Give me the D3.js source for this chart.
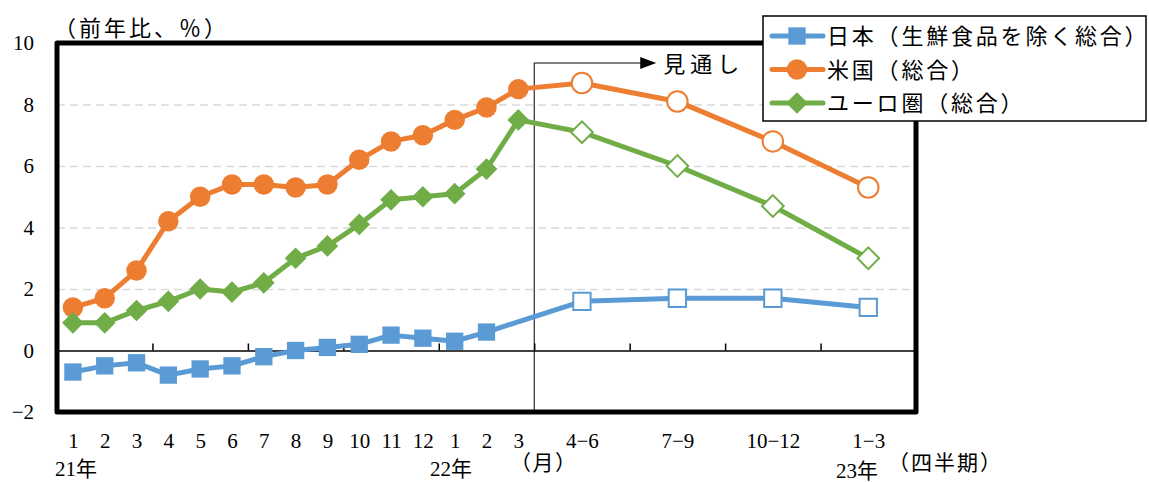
<!DOCTYPE html>
<html>
<head>
<meta charset="utf-8">
<script src="https://cdn.jsdelivr.net/npm/d3@7"></script>
<style>
  html, body { margin: 0; padding: 0; background: #fff; }
  svg { display: block; }
  text { font-family: 'Liberation Serif', 'Noto Sans CJK JP', serif; fill: #000; }
</style>
</head>
<body>
<svg id="chart" width="1149" height="482"></svg>
<script>
// Monthly CPI (y/y, %) Jan 2021 – Mar 2022, then quarterly outlook Apr–Jun 2022 … Jan–Mar 2023
const monthLabels = ["1","2","3","4","5","6","7","8","9","10","11","12","1","2","3"];
const quarterLabels = ["4\u22126","7\u22129","10\u221212","1\u22123"];
const yTicks = [-2, 0, 2, 4, 6, 8, 10];

const seriesNames = ["日本（生鮮食品を除く総合）", "米国（総合）", "ユーロ圏（総合）"];
const seriesColors = ["#5B9BD5", "#ED7D31", "#70AD47"];

// actual monthly values
const japanActual = [-0.7, -0.5, -0.4, -0.8, -0.6, -0.5, -0.2, 0.0, 0.1, 0.2, 0.5, 0.4, 0.3, 0.6];
const usActual    = [1.4, 1.7, 2.6, 4.2, 5.0, 5.4, 5.4, 5.3, 5.4, 6.2, 6.8, 7.0, 7.5, 7.9, 8.5];
const euroActual  = [0.9, 0.9, 1.3, 1.6, 2.0, 1.9, 2.2, 3.0, 3.4, 4.1, 4.9, 5.0, 5.1, 5.9, 7.5];

// quarterly outlook
const japanOutlook = [1.6, 1.7, 1.7, 1.4];
const usOutlook    = [8.7, 8.1, 6.8, 5.3];
const euroOutlook  = [7.1, 6.0, 4.7, 3.0];

const svg = d3.select("#chart");

// period index: months 0..14, each quarter centred on its middle month
const nMonths = monthLabels.length;
const quarterPos = quarterLabels.map((_, q) => nMonths + 3 * q + 1);
const nPeriods = nMonths + 3 * quarterLabels.length;

const plot = { left: 57, right: 916, top: 43, bottom: 412 };
const x = d3.scaleLinear().domain([-0.5, nPeriods - 0.5]).range([plot.left, plot.right]);
const y = d3.scaleLinear().domain([-2, 10]).range([plot.bottom, plot.top]);

function buildSeries(actual, outlook) {
  const pts = actual.map((v, i) => ({ i, v, outlook: false }));
  outlook.forEach((v, q) => pts.push({ i: quarterPos[q], v, outlook: true }));
  return pts;
}
const series = [
  buildSeries(japanActual, japanOutlook),
  buildSeries(usActual, usOutlook),
  buildSeries(euroActual, euroOutlook)
];

// dashed gridlines
svg.append("g")
  .attr("transform", `translate(${plot.left},0)`)
  .call(d3.axisLeft(y).tickValues(yTicks.filter(t => t > 0 && t < 10)).tickSize(-(plot.right - plot.left)).tickFormat(""))
  .call(g => g.select(".domain").remove())
  .call(g => g.selectAll(".tick line").attr("stroke", "#D9D9D9").attr("stroke-width", 1.5).attr("stroke-dasharray", "8,5"));

// y tick labels
svg.append("g")
  .attr("transform", `translate(${plot.left - 20},0)`)
  .call(d3.axisLeft(y).tickValues(yTicks).tickSize(0).tickFormat(d => d < 0 ? "\u2212" + Math.abs(d) : d))
  .call(g => g.select(".domain").remove())
  .call(g => g.selectAll("text").attr("font-size", 21).attr("font-family", "'Liberation Serif', serif").attr("fill", "#000"));

// outlook divider and arrow
const divX = x(nMonths - 0.5);
const annY = 63;
svg.append("line").attr("x1", divX).attr("x2", divX).attr("y1", annY).attr("y2", plot.bottom)
  .attr("stroke", "#000").attr("stroke-width", 1);
svg.append("line").attr("x1", divX).attr("x2", divX + 108).attr("y1", annY).attr("y2", annY)
  .attr("stroke", "#000").attr("stroke-width", 1);
svg.append("path")
  .attr("d", `M${divX + 106},${annY - 6}L${divX + 122},${annY}L${divX + 106},${annY + 6}Z`)
  .attr("fill", "#000");
svg.append("text").attr("x", divX + 129).attr("y", annY + 9).attr("font-size", 22)
  .attr("letter-spacing", 5).text("見通し");

// zero line with quarter-boundary ticks
const boundaryTicks = d3.range(2.5, nPeriods - 1, 3);
svg.append("g")
  .attr("transform", `translate(0,${y(0)})`)
  .call(d3.axisBottom(x).tickValues(boundaryTicks).tickSize(-7).tickSizeOuter(0).tickFormat(""))
  .call(g => g.select(".domain").attr("stroke", "#000").attr("stroke-width", 1.5))
  .call(g => g.selectAll(".tick line").attr("stroke", "#000").attr("stroke-width", 1.5));

// month and quarter labels
const periodLabels = monthLabels.map((t, i) => ({ i, t }))
  .concat(quarterLabels.map((t, q) => ({ i: quarterPos[q], t })));
svg.append("g")
  .attr("transform", `translate(0,${plot.bottom + 18})`)
  .call(d3.axisBottom(x).tickValues(periodLabels.map(d => d.i)).tickSize(0)
    .tickFormat(d => periodLabels.find(p => p.i === d).t))
  .call(g => g.select(".domain").remove())
  .call(g => g.selectAll("text").attr("font-size", 21).attr("font-family", "'Liberation Serif', serif").attr("fill", "#000"));

// year and unit labels
svg.append("text").attr("x", 55).attr("y", 476).attr("font-size", 21).text("21年");
svg.append("text").attr("x", 430).attr("y", 476).attr("font-size", 21).text("22年");
svg.append("text").attr("x", 510).attr("y", 470).attr("font-size", 21).attr("letter-spacing", 1.5).text("（月）");
svg.append("text").attr("x", 836).attr("y", 478).attr("font-size", 21).text("23年");
svg.append("text").attr("x", 888).attr("y", 470).attr("font-size", 21).attr("letter-spacing", 2).text("（四半期）");

// unit label
svg.append("text").attr("x", 54).attr("y", 36).attr("font-size", 22).attr("letter-spacing", 3).text("（前年比、％）");

// marker shapes (diamond = square turned 45°)
const symbols = [d3.symbolSquare, d3.symbolCircle, d3.symbolSquare];
const symSize = [300, 330, 235];
const symRotate = [0, 0, 45];
function markerPath(k) { return d3.symbol().type(symbols[k]).size(symSize[k])(); }

const line = d3.line().x(d => x(d.i)).y(d => y(d.v));

series.forEach((pts, k) => {
  const g = svg.append("g");
  g.append("path").datum(pts).attr("d", line)
    .attr("fill", "none").attr("stroke", seriesColors[k]).attr("stroke-width", 5)
    .attr("stroke-linejoin", "round");
  g.selectAll("path.m").data(pts).join("path").attr("class", "m")
    .attr("d", markerPath(k))
    .attr("transform", d => `translate(${x(d.i)},${y(d.v)}) rotate(${symRotate[k]})`)
    .attr("fill", d => d.outlook ? "#fff" : seriesColors[k])
    .attr("stroke", seriesColors[k])
    .attr("stroke-width", d => d.outlook ? 2 : 0);
});

// plot frame
svg.append("rect")
  .attr("x", plot.left).attr("y", plot.top)
  .attr("width", plot.right - plot.left).attr("height", plot.bottom - plot.top)
  .attr("fill", "none").attr("stroke", "#000").attr("stroke-width", 5).attr("stroke-linejoin", "round");

// legend
const lg = svg.append("g");
lg.append("rect").attr("x", 763).attr("y", 16).attr("width", 383).attr("height", 105)
  .attr("fill", "#fff").attr("stroke", "#000").attr("stroke-width", 1.5);
seriesNames.forEach((name, k) => {
  const ry = 36 + k * 33.5;
  lg.append("line").attr("x1", 772).attr("x2", 823).attr("y1", ry).attr("y2", ry)
    .attr("stroke", seriesColors[k]).attr("stroke-width", 5).attr("stroke-linecap", "round");
  lg.append("path").attr("d", markerPath(k)).attr("transform", `translate(797,${ry}) rotate(${symRotate[k]})`)
    .attr("fill", seriesColors[k]);
  lg.append("text").attr("x", 827).attr("y", ry + 8).attr("font-size", 22)
    .attr("letter-spacing", 2.8).text(name);
});
</script>
</body>
</html>
